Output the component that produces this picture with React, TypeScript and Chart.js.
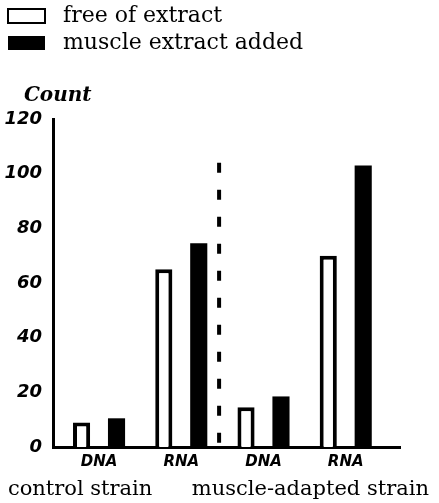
import React, { useEffect, useRef } from "react";
import { Chart, registerables } from "chart.js";

Chart.register(...registerables);

const categories = ["DNA", "RNA", "DNA", "RNA"];
const categoryPositions = [1, 2, 3, 4];
const freeOfExtract = [9, 65, 14.5, 70];
const muscleExtractAdded = [10.5, 74.5, 18.5, 103];
const yTicks = [0, 20, 40, 60, 80, 100, 120];
const dividerX = 2.46;
const dividerTop = 104;
const seriesNames = ["free of extract", "muscle extract added"];
const groupNames = ["control strain", "muscle-adapted strain"];
const groupLabelPositions = [0.77, 3.57];
const yTitle = "Count";

export default function App() {
  const ref = useRef<HTMLCanvasElement | null>(null);

  useEffect(() => {
    if (!ref.current) return;
    const handFont = { family: "DejaVu Sans", weight: "bold" as const, style: "italic" as const };
    const xMin = 0.44;
    const xMax = 4.66;
    const chart = new Chart(ref.current, {
      type: "bar",
      data: {
        datasets: [
          {
            label: seriesNames[0],
            data: categoryPositions.map((x, i) => ({ x, y: freeOfExtract[i] })),
            backgroundColor: "#fff",
            borderColor: "#000",
            borderWidth: 4,
            categoryPercentage: 0.85,
            barPercentage: 0.49,
          },
          {
            label: seriesNames[1],
            data: categoryPositions.map((x, i) => ({ x, y: muscleExtractAdded[i] })),
            backgroundColor: "#000",
            borderColor: "#000",
            borderWidth: 0,
            categoryPercentage: 0.85,
            barPercentage: 0.49,
          },
          {
            type: "line",
            label: "divider",
            data: [
              { x: dividerX, y: dividerTop },
              { x: dividerX, y: 0 },
            ],
            borderColor: "#000",
            borderWidth: 4,
            borderDash: [10, 17],
            pointRadius: 0,
            fill: false,
          } as any,
        ],
      },
      options: {
        animation: false,
        responsive: false,
        maintainAspectRatio: false,
        layout: { padding: { right: 39, left: 3, top: 0, bottom: 0 } },
        plugins: {
          tooltip: { enabled: false },
          legend: {
            position: "top",
            align: "start",
            labels: {
              color: "#000",
              boxWidth: 37,
              boxHeight: 14,
              padding: 5,
              font: { family: "DejaVu Serif", size: 22 },
              generateLabels: (c: any) =>
                (Chart.defaults.plugins.legend.labels as any)
                  .generateLabels(c)
                  .filter((l: any) => l.datasetIndex < 2)
                  .map((l: any) => ({
                    ...l,
                    text: " " + l.text,
                    lineWidth: l.datasetIndex === 0 ? 2 : 0,
                  })),
            },
          },
          title: {
            display: true,
            text: "   " + yTitle,
            align: "start",
            position: "top",
            weight: 500,
            color: "#000",
            font: { family: "DejaVu Serif", size: 20, weight: "bold", style: "italic" },
            padding: { top: 20, bottom: 11 },
          } as any,
        },
        scales: {
          x: {
            type: "linear",
            position: "bottom",
            weight: 0,
            offset: false,
            min: xMin,
            max: xMax,
            afterBuildTicks: (s: any) => {
              s.ticks = categoryPositions.map((v) => ({ value: v }));
            },
            afterFit: (s: any) => {
              s.height = 24;
              s.paddingLeft = 0;
              s.paddingRight = 0;
            },
            ticks: {
              callback: (v: any) => {
                const i = categoryPositions.indexOf(Number(v));
                return i >= 0 ? categories[i] : "";
              },
              color: "#000",
              font: { ...handFont, size: 15 },
              padding: 6,
              maxRotation: 0,
              minRotation: 0,
              autoSkip: false,
            },
            grid: { display: false, drawTicks: false },
            border: { display: true, color: "#000", width: 3 },
          },
          xg: {
            type: "linear",
            position: "bottom",
            weight: 1,
            offset: false,
            min: xMin,
            max: xMax,
            afterBuildTicks: (s: any) => {
              s.ticks = groupLabelPositions.map((v) => ({ value: v }));
            },
            afterFit: (s: any) => {
              s.height = 32;
              s.paddingLeft = 0;
              s.paddingRight = 0;
            },
            ticks: {
              callback: (v: any) => {
                const i = groupLabelPositions.indexOf(Number(v));
                return i >= 0 ? groupNames[i] : "";
              },
              color: "#000",
              font: { family: "DejaVu Serif", size: 21 },
              padding: 6,
              maxRotation: 0,
              minRotation: 0,
              autoSkip: false,
            },
            grid: { display: false, drawTicks: false },
            border: { display: false },
          },
          y: {
            min: 0,
            max: 120,
            afterBuildTicks: (s: any) => {
              s.ticks = yTicks.map((v) => ({ value: v }));
            },
            afterFit: (s: any) => {
              s.width = 50;
            },
            ticks: {
              color: "#000",
              font: { ...handFont, size: 18 },
              padding: 11,
            },
            grid: { display: false, drawTicks: false },
            border: { display: true, color: "#000", width: 3 },
          },
        },
      } as any,
    });
    return () => chart.destroy();
  }, []);

  return (
    <div style={{ position: "fixed", left: 0, top: 0, width: 439, height: 503 }}>
      <canvas ref={ref} width={439} height={503} style={{ display: "block" }} />
    </div>
  );
}
